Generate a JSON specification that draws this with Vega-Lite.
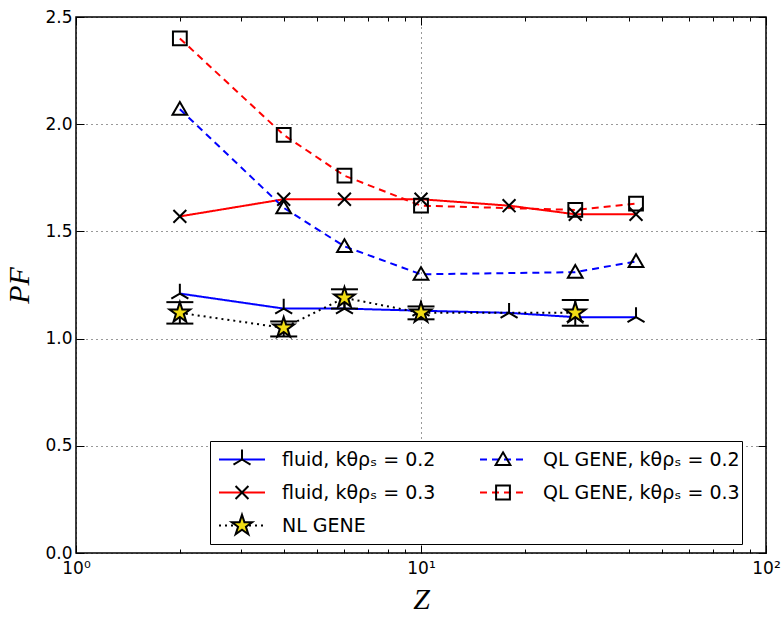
{
  "$schema": "https://vega.github.io/schema/vega-lite/v6.json",
  "width": 690,
  "height": 536,
  "autosize": {"type": "none"},
  "padding": {"left": 76, "top": 17, "right": 18, "bottom": 65},
  "background": "white",
  "config": {
    "view": {"stroke": "black", "strokeWidth": 1.5},
    "font": "DejaVu Sans",
    "axis": {
      "domain": false,
      "labelFont": "DejaVu Sans",
      "labelFontSize": 17,
      "labelColor": "black",
      "labelFlush": false,
      "tickColor": "black",
      "tickWidth": 1,
      "gridColor": "black",
      "gridDash": [1, 4],
      "gridOpacity": 0.8,
      "gridWidth": 1,
      "titleColor": "black",
      "titleFont": "Liberation Serif",
      "titleFontStyle": "italic",
      "titleFontWeight": "normal",
      "titleFontSize": 30
    },
    "legend": {
      "orient": "none", "legendX": 134, "legendY": 424,
      "columns": 2, "columnPadding": 37, "rowPadding": 0, "clipHeight": 33,
      "symbolSize": 2116, "symbolStrokeWidth": 2, "symbolOffset": 6,
      "labelFont": "DejaVu Sans", "labelFontSize": 19,
      "labelOffset": 16, "labelLimit": 400,
      "padding": 2, "title": null
    }
  },
  "datasets": {
    "curves": [
      {"s": "fluid, kθρₛ = 0.2", "m": "fluid, kθρₛ = 0.2 ", "Z": 2, "PF": 1.21},
      {"s": "fluid, kθρₛ = 0.2", "m": "fluid, kθρₛ = 0.2 ", "Z": 4, "PF": 1.14},
      {"s": "fluid, kθρₛ = 0.2", "m": "fluid, kθρₛ = 0.2 ", "Z": 6, "PF": 1.14},
      {"s": "fluid, kθρₛ = 0.2", "m": "fluid, kθρₛ = 0.2 ", "Z": 10, "PF": 1.13},
      {"s": "fluid, kθρₛ = 0.2", "m": "fluid, kθρₛ = 0.2 ", "Z": 18, "PF": 1.12},
      {"s": "fluid, kθρₛ = 0.2", "m": "fluid, kθρₛ = 0.2 ", "Z": 28, "PF": 1.10},
      {"s": "fluid, kθρₛ = 0.2", "m": "fluid, kθρₛ = 0.2 ", "Z": 42, "PF": 1.10},
      {"s": "fluid, kθρₛ = 0.3", "m": "fluid, kθρₛ = 0.3 ", "Z": 2, "PF": 1.57},
      {"s": "fluid, kθρₛ = 0.3", "m": "fluid, kθρₛ = 0.3 ", "Z": 4, "PF": 1.65},
      {"s": "fluid, kθρₛ = 0.3", "m": "fluid, kθρₛ = 0.3 ", "Z": 6, "PF": 1.65},
      {"s": "fluid, kθρₛ = 0.3", "m": "fluid, kθρₛ = 0.3 ", "Z": 10, "PF": 1.65},
      {"s": "fluid, kθρₛ = 0.3", "m": "fluid, kθρₛ = 0.3 ", "Z": 18, "PF": 1.62},
      {"s": "fluid, kθρₛ = 0.3", "m": "fluid, kθρₛ = 0.3 ", "Z": 28, "PF": 1.58},
      {"s": "fluid, kθρₛ = 0.3", "m": "fluid, kθρₛ = 0.3 ", "Z": 42, "PF": 1.58},
      {"s": "QL GENE, kθρₛ = 0.2", "m": "QL GENE, kθρₛ = 0.2 ", "Z": 2, "PF": 2.07},
      {"s": "QL GENE, kθρₛ = 0.2", "m": "QL GENE, kθρₛ = 0.2 ", "Z": 4, "PF": 1.61},
      {"s": "QL GENE, kθρₛ = 0.2", "m": "QL GENE, kθρₛ = 0.2 ", "Z": 6, "PF": 1.43},
      {"s": "QL GENE, kθρₛ = 0.2", "m": "QL GENE, kθρₛ = 0.2 ", "Z": 10, "PF": 1.30},
      {"s": "QL GENE, kθρₛ = 0.2", "m": "QL GENE, kθρₛ = 0.2 ", "Z": 28, "PF": 1.31},
      {"s": "QL GENE, kθρₛ = 0.2", "m": "QL GENE, kθρₛ = 0.2 ", "Z": 42, "PF": 1.36},
      {"s": "QL GENE, kθρₛ = 0.3", "m": "QL GENE, kθρₛ = 0.3 ", "Z": 2, "PF": 2.40},
      {"s": "QL GENE, kθρₛ = 0.3", "m": "QL GENE, kθρₛ = 0.3 ", "Z": 4, "PF": 1.95},
      {"s": "QL GENE, kθρₛ = 0.3", "m": "QL GENE, kθρₛ = 0.3 ", "Z": 6, "PF": 1.76},
      {"s": "QL GENE, kθρₛ = 0.3", "m": "QL GENE, kθρₛ = 0.3 ", "Z": 10, "PF": 1.62},
      {"s": "QL GENE, kθρₛ = 0.3", "m": "QL GENE, kθρₛ = 0.3 ", "Z": 28, "PF": 1.60},
      {"s": "QL GENE, kθρₛ = 0.3", "m": "QL GENE, kθρₛ = 0.3 ", "Z": 42, "PF": 1.63},
      {"s": "NL GENE", "m": "NL GENE ", "Z": 2, "PF": 1.12},
      {"s": "NL GENE", "m": "NL GENE ", "Z": 4, "PF": 1.05},
      {"s": "NL GENE", "m": "NL GENE ", "Z": 6, "PF": 1.19},
      {"s": "NL GENE", "m": "NL GENE ", "Z": 10, "PF": 1.12},
      {"s": "NL GENE", "m": "NL GENE ", "Z": 28, "PF": 1.12}
    ],
    "errors": [
      {"Z": 2, "lo": 1.07, "hi": 1.17},
      {"Z": 4, "lo": 1.01, "hi": 1.08},
      {"Z": 6, "lo": 1.14, "hi": 1.23},
      {"Z": 10, "lo": 1.09, "hi": 1.15},
      {"Z": 28, "lo": 1.06, "hi": 1.18}
    ]
  },
  "layer": [
    {
      "data": {"name": "curves"},
      "mark": {"type": "line", "strokeWidth": 2},
      "encoding": {
        "x": {
          "field": "Z", "type": "quantitative",
          "scale": {"type": "log", "domain": [1, 100], "nice": false},
          "axis": {
            "orient": "bottom", "values": [1, 10, 100], "grid": true,
            "tickSize": -8, "labelPadding": 15,
            "labelExpr": "datum.value == 1 ? '10⁰' : datum.value == 10 ? '10¹' : '10²'",
            "title": "Z", "titlePadding": 8
          }
        },
        "y": {
          "field": "PF", "type": "quantitative",
          "scale": {"domain": [0, 2.5], "nice": false, "zero": false},
          "axis": {
            "orient": "left", "values": [0, 0.5, 1, 1.5, 2, 2.5], "grid": true,
            "tickSize": -8, "labelPadding": 12, "format": ".1f",
            "title": "PF", "titlePadding": 10
          }
        },
        "color": {
          "field": "s", "type": "nominal",
          "scale": {
            "domain": ["fluid, kθρₛ = 0.2", "fluid, kθρₛ = 0.3", "NL GENE", "QL GENE, kθρₛ = 0.2", "QL GENE, kθρₛ = 0.3"],
            "range": ["#0000ff", "#ff0000", "#000000", "#0000ff", "#ff0000"]
          },
          "legend": {"labelColor": "transparent", "strokeColor": "black", "fillColor": "white"}
        },
        "strokeDash": {
          "field": "s", "type": "nominal",
          "scale": {
            "domain": ["fluid, kθρₛ = 0.2", "fluid, kθρₛ = 0.3", "NL GENE", "QL GENE, kθρₛ = 0.2", "QL GENE, kθρₛ = 0.3"],
            "range": [[1, 0], [1, 0], [2, 4], [7, 5], [7, 5]]
          },
          "legend": {"labelColor": "transparent", "strokeColor": "black", "fillColor": "white"}
        }
      }
    },
    {
      "data": {"name": "errors"},
      "mark": {"type": "rule", "color": "black", "strokeWidth": 2},
      "encoding": {
        "x": {"field": "Z", "type": "quantitative",
          "axis": {"orient": "bottom", "values": [2,3,4,5,6,7,8,9,20,30,40,50,60,70,80,90], "labels": false, "grid": false, "tickSize": -4, "title": null}},
        "y": {"field": "lo", "type": "quantitative", "axis": null},
        "y2": {"field": "hi"}
      }
    },
    {
      "data": {"name": "errors"},
      "mark": {"type": "tick", "color": "black", "thickness": 2, "size": 27, "orient": "horizontal", "opacity": 1},
      "encoding": {
        "x": {"field": "Z", "type": "quantitative",
          "axis": {"orient": "top", "values": [2,3,4,5,6,7,8,9,20,30,40,50,60,70,80,90], "labels": false, "grid": false, "tickSize": -4, "title": null}},
        "y": {"field": "lo", "type": "quantitative", "axis": null}
      }
    },
    {
      "data": {"name": "errors"},
      "mark": {"type": "tick", "color": "black", "thickness": 2, "size": 27, "orient": "horizontal", "opacity": 1},
      "encoding": {
        "x": {"field": "Z", "type": "quantitative", "axis": null},
        "y": {"field": "hi", "type": "quantitative", "axis": null}
      }
    },
    {
      "data": {"name": "curves"},
      "mark": {"type": "point", "filled": true, "strokeWidth": 2, "size": 2116, "opacity": 1},
      "encoding": {
        "x": {"field": "Z", "type": "quantitative",
          "axis": {"orient": "top", "values": [1, 10, 100], "labels": false, "grid": false, "tickSize": -8, "title": null}},
        "y": {"field": "PF", "type": "quantitative",
          "axis": {"orient": "right", "values": [0, 0.5, 1, 1.5, 2, 2.5], "labels": false, "grid": false, "tickSize": -8, "title": null}},
        "shape": {
          "field": "m", "type": "nominal",
          "scale": {
            "domain": ["fluid, kθρₛ = 0.2 ", "fluid, kθρₛ = 0.3 ", "NL GENE ", "QL GENE, kθρₛ = 0.2 ", "QL GENE, kθρₛ = 0.3 "],
            "range": [
              "M0,0L0,-0.43M0,0L-0.37,0.22M0,0L0.37,0.22",
              "M-0.28,-0.28L0.28,0.28M-0.28,0.28L0.28,-0.28",
              "M0,-0.47L0.106,-0.146L0.447,-0.146L0.171,0.056L0.276,0.38L0,0.18L-0.276,0.38L-0.171,0.056L-0.447,-0.146L-0.106,-0.146Z",
              "M0,-0.31L0.32,0.24L-0.32,0.24Z",
              "M-0.3,-0.3H0.3V0.3H-0.3Z"
            ]
          },
          "legend": {"labelColor": "black"}
        },
        "fill": {
          "field": "m", "type": "nominal",
          "scale": {
            "domain": ["fluid, kθρₛ = 0.2 ", "fluid, kθρₛ = 0.3 ", "NL GENE ", "QL GENE, kθρₛ = 0.2 ", "QL GENE, kθρₛ = 0.3 "],
            "range": ["transparent", "transparent", "#f0dc14", "transparent", "transparent"]
          },
          "legend": {"labelColor": "black"}
        },
        "stroke": {
          "field": "m", "type": "nominal",
          "scale": {
            "domain": ["fluid, kθρₛ = 0.2 ", "fluid, kθρₛ = 0.3 ", "NL GENE ", "QL GENE, kθρₛ = 0.2 ", "QL GENE, kθρₛ = 0.3 "],
            "range": ["black", "black", "black", "black", "black"]
          },
          "legend": {"labelColor": "black"}
        }
      }
    }
  ],
  "resolve": {"axis": {"x": "independent", "y": "independent"}}
}
